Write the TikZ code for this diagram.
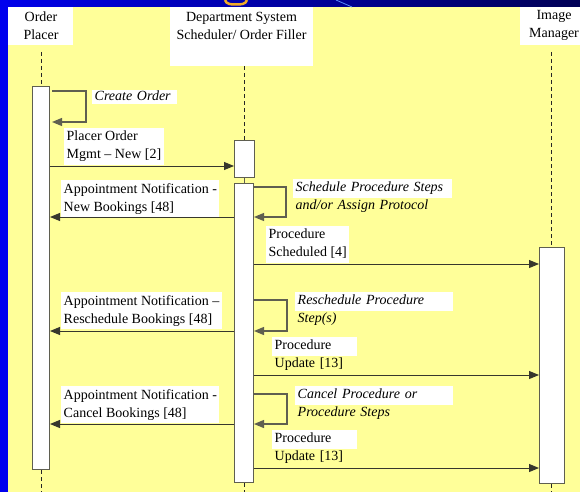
\documentclass[tikz,border=0pt]{standalone}
\usepackage{fontspec}
\setmainfont{Liberation Serif}
\usetikzlibrary{arrows.meta}
\definecolor{bgyellow}{RGB}{255,255,153}
\definecolor{frameblue}{RGB}{0,0,238}
\definecolor{bandleft}{RGB}{0,0,235}
\definecolor{bandright}{RGB}{0,0,85}
\definecolor{linecol}{RGB}{55,55,45}
\definecolor{boxline}{RGB}{95,95,80}
\definecolor{titleorange}{RGB}{240,170,40}
\definecolor{streak}{RGB}{90,140,255}
\begin{document}
\begin{tikzpicture}[x=1pt,y=-1pt,
  txt/.style={font=\fontsize{14}{18}\selectfont},
  lbl/.style={txt, fill=white, anchor=north west, align=left, inner xsep=2.5pt, inner ysep=3pt, text depth=3pt},
  ilbl/.style={lbl, font=\fontsize{14}{18}\selectfont\itshape},
  hdrbox/.style={fill=white, anchor=north west, inner sep=0pt},
  hdrtxt/.style={txt, align=center, inner sep=0pt},
  act/.style={draw=boxline, fill=white, line width=1pt, inner sep=0pt, anchor=north west},
  life/.style={draw=black!85, line width=0.8pt, dash pattern=on 4pt off 3pt},
  msg/.style={draw=linecol, line width=1pt, -{Triangle[length=10pt,width=8pt]}},
  loopline/.style={draw=boxline, line width=1.2pt, -{Triangle[length=10pt,width=8pt]}},
]
\useasboundingbox (0,0) rectangle (580,492);
% frame and background
\fill[frameblue] (0,0) rectangle (580,492);
\shade[left color=bandleft, right color=bandright] (0,0) rectangle (580,7);
\fill[frameblue] (0,0) rectangle (8,492);
\fill[bgyellow] (8,7) rectangle (580,492);
\draw[titleorange, line width=2.5pt] (225,0) to[out=-75,in=180] (236,4.5) to[out=0,in=-105] (247,0);
\draw[streak, line width=0.8pt] (336,0) -- (352,7);

% headers
\node[hdrbox, minimum width=65pt, minimum height=38pt] (ophdr) at (8,7) {};
\node[hdrtxt] (optxt) at (41,25.5) {Order\\Placer};
\node[hdrbox, minimum width=143pt, minimum height=59pt] (dshdr) at (170,7) {};
\node[hdrtxt] (dstxt) at (241.5,25.5) {Department System\\Scheduler/ Order Filler};
\node[hdrbox, minimum width=60pt, minimum height=38pt] (imhdr) at (520,7) {};
\node[hdrtxt] (imtxt) at (554,25.5) {Image\\Manager};

% activation boxes
\node[act, minimum width=17pt, minimum height=383pt] (opact) at (32,86) {};
\node[act, minimum width=20pt, minimum height=37pt] (dsmall) at (234,140) {};
\node[act, minimum width=19pt, minimum height=299pt] (dmain) at (234,183) {};
\node[act, minimum width=25pt, minimum height=236pt] (imact) at (539,247) {};

% lifelines
\coordinate (oplt) at (41,52);
\coordinate (oplb) at (41,492);
\coordinate (dslb) at (244,492);
\coordinate (imlt) at (551,52);
\coordinate (imlb) at (551,492);
\draw[life] (oplt) -- (opact.north -| oplt);
\draw[life] (opact.south -| oplb) -- (oplb);
\draw[life] (dshdr.south -| dslb) -- (dsmall.north -| dslb);
\draw[draw=boxline, line width=1pt] (dsmall.south -| dslb) -- (dmain.north -| dslb);
\draw[life] (dmain.south -| dslb) -- (dslb);
\draw[life] (imlt) -- (imact.north -| imlt);
\draw[life] (imact.south -| imlb) -- (imlb);

% y levels
\coordinate (c1) at (0,91);   \coordinate (c2) at (0,122);
\coordinate (m1) at (0,166);
\coordinate (s1) at (0,187);  \coordinate (s2) at (0,217);
\coordinate (m3) at (0,264);
\coordinate (r1) at (0,300);  \coordinate (r2) at (0,331);
\coordinate (m5) at (0,375);
\coordinate (k1) at (0,394);  \coordinate (k2) at (0,424);
\coordinate (m7) at (0,468);

% self loops
\draw[loopline] ([xshift=2pt]opact.east |- c1) -- ++(34,0) |- ([xshift=2pt]opact.east |- c2);
\draw[loopline] (dmain.east |- s1) -- ++(32,0) |- (dmain.east |- s2);
\draw[loopline] (dmain.east |- r1) -- ++(33,0) |- (dmain.east |- r2);
\draw[loopline] (dmain.east |- k1) -- ++(33,0) |- (dmain.east |- k2);

% messages
\draw[msg] (opact.east |- m1) -- (dsmall.west |- m1);
\draw[msg] (dmain.west |- s2) -- (opact.east |- s2);
\draw[msg] (dmain.east |- m3) -- (imact.west |- m3);
\draw[msg] (dmain.west |- r2) -- (opact.east |- r2);
\draw[msg] (dmain.east |- m5) -- (imact.west |- m5);
\draw[msg] (dmain.west |- k2) -- (opact.east |- k2);
\draw[msg] (dmain.east |- m7) -- (imact.west |- m7);

% labels
\node[ilbl, text width=80pt, inner ysep=1pt, text depth=2pt] (l0) at (92,90) {\mbox{Create Order}};
\node[lbl] (l1) at (64,128) {Placer Order\\Mgmt -- New [2]};
\node[lbl] (l2) at (61,180) {Appointment Notification -\\New Bookings [48]};
\node[ilbl, text width=154pt] (l3) at (293,179) {\mbox{Schedule Procedure Steps}\\\mbox{and/or Assign Protocol}};
\node[lbl] (l4) at (266,226) {Procedure\\Scheduled [4]};
\node[ilbl, text width=153pt] (l5) at (295,292) {\mbox{Reschedule Procedure}\\\mbox{Step(s)}};
\node[lbl] (l6) at (61,292) {Appointment Notification --\\Reschedule Bookings [48]};
\node[lbl, text width=80pt] (l7) at (272,337) {\mbox{Procedure}\\\mbox{Update [13]}};
\node[ilbl, text width=153pt] (l8) at (295,386) {\mbox{Cancel Procedure or}\\\mbox{Procedure Steps}};
\node[lbl] (l9) at (61,386) {Appointment Notification -\\Cancel Bookings [48]};
\node[lbl, text width=80pt] (l10) at (272,430) {\mbox{Procedure}\\\mbox{Update [13]}};
\end{tikzpicture}
\end{document}
